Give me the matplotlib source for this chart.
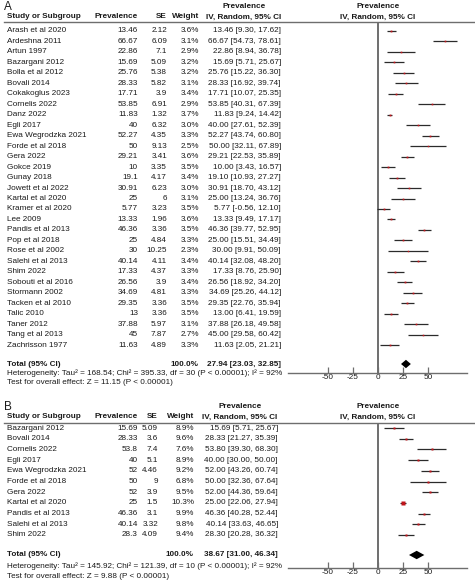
import numpy as np
import matplotlib
matplotlib.use('Agg')
import matplotlib.pyplot as plt

plt.rcParams['font.family'] = ['Liberation Sans', 'DejaVu Sans']

# 图A 数据
studies_a = ["Arash et al 2020", "Ardeshna 2011", "Artun 1997", "Bazargani 2012", "Bolla et al 2012",
             "Bovali 2014", "Cokakoglus 2023", "Cornelis 2022", "Danz 2022", "Egli 2017",
             "Ewa Wegrodzka 2021", "Forde et al 2018", "Gera 2022", "Gokce 2019", "Gunay 2018",
             "Jowett et al 2022", "Kartal et al 2020", "Kramer et al 2020", "Lee 2009", "Pandis et al 2013",
             "Pop et al 2018", "Rose et al 2002", "Salehi et al 2013", "Shim 2022", "Sobouti et al 2016",
             "Stormann 2002", "Tacken et al 2010", "Talic 2010", "Taner 2012", "Tang et al 2013",
             "Zachrisson 1977"]
prev_a = ["13.46", "66.67", "22.86", "15.69", "25.76", "28.33", "17.71", "53.85", "11.83", "40",
          "52.27", "50", "29.21", "10", "19.1", "30.91", "25", "5.77", "13.33", "46.36",
          "25", "30", "40.14", "17.33", "26.56", "34.69", "29.35", "13", "37.88", "45", "11.63"]
se_a = ["2.12", "6.09", "7.1", "5.09", "5.38", "5.82", "3.9", "6.91", "1.32", "6.32",
        "4.35", "9.13", "3.41", "3.35", "4.17", "6.23", "6", "3.23", "1.96", "3.36",
        "4.84", "10.25", "4.11", "4.37", "3.9", "4.81", "3.36", "3.36", "5.97", "7.87", "4.89"]
weight_a = [3.6, 3.1, 2.9, 3.2, 3.2, 3.1, 3.4, 2.9, 3.7, 3.0, 3.3, 2.5, 3.6, 3.5, 3.4, 3.0,
            3.1, 3.5, 3.6, 3.5, 3.3, 2.3, 3.4, 3.3, 3.4, 3.3, 3.5, 3.5, 3.1, 2.7, 3.3]
lo_a = [9.30, 54.73, 8.94, 5.71, 15.22, 16.92, 10.07, 40.31, 9.24, 27.61, 43.74, 32.11, 22.53,
        3.43, 10.93, 18.70, 13.24, -0.56, 9.49, 39.77, 15.51, 9.91, 32.08, 8.76, 18.92, 25.26,
        22.76, 6.41, 26.18, 29.58, 2.05]
hi_a = [17.62, 78.61, 36.78, 25.67, 36.30, 39.74, 25.35, 67.39, 14.42, 52.39, 60.80, 67.89, 35.89,
        16.57, 27.27, 43.12, 36.76, 12.10, 17.17, 52.95, 34.49, 50.09, 48.20, 25.90, 34.20, 44.12,
        35.94, 19.59, 49.58, 60.42, 21.21]
total_a = (27.94, 23.03, 32.85)
het_a = "Heterogeneity: Tau\u00b2 = 168.54; Chi\u00b2 = 395.33, df = 30 (P < 0.00001); I\u00b2 = 92%"
test_a = "Test for overall effect: Z = 11.15 (P < 0.00001)"

# 图B 数据
studies_b = ["Bazargani 2012", "Bovali 2014", "Cornelis 2022", "Egli 2017", "Ewa Wegrodzka 2021",
             "Forde et al 2018", "Gera 2022", "Kartal et al 2020", "Pandis et al 2013",
             "Salehi et al 2013", "Shim 2022"]
prev_b = ["15.69", "28.33", "53.8", "40", "52", "50", "52", "25", "46.36", "40.14", "28.3"]
se_b = ["5.09", "3.6", "7.4", "5.1", "4.46", "9", "3.9", "1.5", "3.1", "3.32", "4.09"]
weight_b = [8.9, 9.6, 7.6, 8.9, 9.2, 6.8, 9.5, 10.3, 9.9, 9.8, 9.4]
lo_b = [5.71, 21.27, 39.30, 30.00, 43.26, 32.36, 44.36, 22.06, 40.28, 33.63, 20.28]
hi_b = [25.67, 35.39, 68.30, 50.00, 60.74, 67.64, 59.64, 27.94, 52.44, 46.65, 36.32]
total_b = (38.67, 31.00, 46.34)
het_b = "Heterogeneity: Tau\u00b2 = 145.92; Chi\u00b2 = 121.39, df = 10 (P < 0.00001); I\u00b2 = 92%"
test_b = "Test for overall effect: Z = 9.88 (P < 0.00001)"

ticks = [-50, -25, 0, 25, 50]

W, H = 475, 585
fs = 5.9
tc = '#1a1a1a'
lc = '#6e6e6e'

fig = plt.figure(figsize=(W / 100, H / 100), dpi=100)
bg = fig.add_axes([0, 0, 1, 1])
bg.set_xlim(0, W)
bg.set_ylim(H, 0)
bg.axis('off')


def panel(letter, studies, prev, se, weight, lo, hi, total, het, test, lay):
    y0, step = lay['y0'], lay['step']
    n = len(studies)
    cx = lay['cols']
    # 标题
    bg.text(4, lay['h1'], letter, fontsize=8.5, color=tc, va='center', ha='left')
    bg.text(cx['cih'], lay['h1'], "Prevalence", fontsize=fs, fontweight='bold', color=tc, va='center', ha='center')
    bg.text(378, lay['h1'], "Prevalence", fontsize=fs, fontweight='bold', color=tc, va='center', ha='center')
    bg.text(7, lay['h2'], "Study or Subgroup", fontsize=fs, fontweight='bold', color=tc, va='center')
    bg.text(cx['prev'], lay['h2'], "Prevalence", fontsize=fs, fontweight='bold', color=tc, va='center', ha='right')
    bg.text(cx['se'], lay['h2'], "SE", fontsize=fs, fontweight='bold', color=tc, va='center', ha='right')
    bg.text(cx['wt'], lay['h2'], "Weight", fontsize=fs, fontweight='bold', color=tc, va='center', ha='right')
    bg.text(cx['cih'], lay['h2'], "IV, Random, 95% CI", fontsize=fs, fontweight='bold', color=tc, va='center', ha='center')
    bg.text(378, lay['h2'], "IV, Random, 95% CI", fontsize=fs, fontweight='bold', color=tc, va='center', ha='center')
    bg.plot([4, W], [lay['line'], lay['line']], color=lc, lw=1.0)

    for i in range(n):
        y = y0 + i * step
        bg.text(7, y, studies[i], fontsize=fs, color=tc, va='center')
        bg.text(cx['prev'], y, prev[i], fontsize=fs, color=tc, va='center', ha='right')
        bg.text(cx['se'], y, se[i], fontsize=fs, color=tc, va='center', ha='right')
        bg.text(cx['wt'], y, f"{weight[i]:.1f}%", fontsize=fs, color=tc, va='center', ha='right')
        bg.text(cx['ci'], y, f"{float(prev[i]):.2f} [{lo[i]:.2f}, {hi[i]:.2f}]",
                fontsize=fs, color=tc, va='center', ha='right')

    yt = lay['total']
    bg.text(7, yt, "Total (95% CI)", fontsize=fs, fontweight='bold', color=tc, va='center')
    bg.text(cx['wt'], yt, "100.0%", fontsize=fs, fontweight='bold', color=tc, va='center', ha='right')
    bg.text(cx['ci'], yt, f"{total[0]:.2f} [{total[1]:.2f}, {total[2]:.2f}]",
            fontsize=fs, fontweight='bold', color=tc, va='center', ha='right')
    bg.text(7, lay['het'], het, fontsize=fs, color=tc, va='center')
    bg.text(7, lay['test'], test, fontsize=fs, color=tc, va='center')

    # 森林图
    top, bot = lay['line'], lay['axis']
    ax = fig.add_axes([288 / W, 1 - bot / H, (467 - 288) / W, (bot - top) / H])
    ax.set_xlim(-90, 89)
    ax.set_ylim((bot - y0) / step, (top - y0) / step)
    ax.patch.set_alpha(0)
    for s in ['left', 'right', 'top']:
        ax.spines[s].set_visible(False)
    ax.spines['bottom'].set_color(lc)
    ax.spines['bottom'].set_linewidth(1.0)
    ax.set_yticks([])
    ax.set_xticks(ticks)
    ax.set_xticklabels([str(t) for t in ticks])
    ax.tick_params(axis='x', direction='in', length=4, width=0.9, color=lc, labelsize=fs,
                   labelcolor=tc, pad=1)
    ax.axvline(0, color=lc, lw=1.4)

    rows = np.arange(n)
    est = np.array([float(p) for p in prev])
    ax.hlines(rows, lo, hi, color='#2b2b2b', lw=0.9)
    for r, e, w in zip(rows, est, weight):
        ax.plot(e, r, 's', color='#c0141a', ms=0.68 * np.sqrt(w), mec='none')
    rt = (yt - y0) / step
    h = 4.2 / step
    ax.fill([total[1], total[0], total[2], total[0]], [rt, rt - h, rt, rt + h], color='black', lw=0)


panel("A", studies_a, prev_a, se_a, weight_a, lo_a, hi_a, total_a, het_a, test_a,
      dict(y0=31, step=10.47, h1=7, h2=17, line=22, total=364, het=373, test=382, axis=373,
           cols=dict(prev=138, se=167, wt=199, ci=281, cih=244)))
panel("B", studies_b, prev_b, se_b, weight_b, lo_b, hi_b, total_b, het_b, test_b,
      dict(y0=428, step=10.7, h1=407, h2=417, line=423, total=555, het=566, test=576, axis=568,
           cols=dict(prev=138, se=158, wt=194, ci=278, cih=240)))

fig.savefig('out.png', dpi=100)
